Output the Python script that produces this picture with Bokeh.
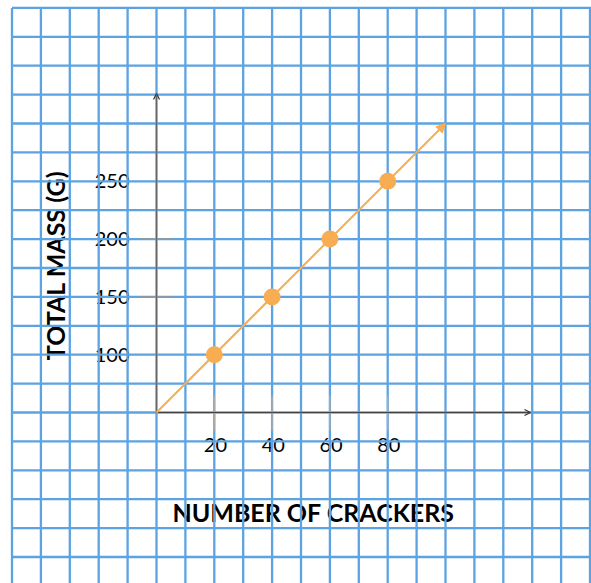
import numpy as np
from bokeh.plotting import figure
from bokeh.models import Range1d, Arrow, NormalHead, OpenHead
from bokeh.core.properties import value
from bokeh.embed import file_html
from bokeh.resources import INLINE

# ---- data ----
crackers = [20, 40, 60, 80]
total_mass = [100, 150, 200, 250]
x_tick_values = [20, 40, 60, 80]
x_tick_labels = ["20", "40", "60", "80"]
y_tick_values = [100, 150, 200, 250]
y_tick_labels = ["100", "150", "200", "250"]
y_tick_marks = [150, 200]
trend_x = [0, 100]
trend_y = [50, 300]
x_title = "NUMBER OF CRACKERS"
y_title = "TOTAL MASS (G)"

# ---- layout helpers (page pixels -> data) ----
W, H = 591, 583
OX, OY = 156, 412      # page px of origin (x=0, y=50)
SX, SY = 2.89, 1.156   # px per unit
Y0 = 50

def dx(px):
    return (px - OX) / SX

def dy(py):
    return Y0 + (OY - py) / SY

p = figure(width=W, height=H, output_backend="svg", toolbar_location=None,
           x_range=Range1d(dx(0), dx(W)), y_range=Range1d(dy(H), dy(0)),
           x_axis_type=None, y_axis_type=None, min_border=0)
p.grid.visible = False
p.outline_line_color = None
p.background_fill_color = "white"
p.border_fill_color = "white"

FONT = value("Lato")

# texts (under the grid)
p.text(x=[dx(129)] * len(y_tick_values), y=y_tick_values, text=y_tick_labels,
       text_font=FONT, text_font_size="20px", text_color="#000000",
       text_align="right", text_baseline="middle")
p.text(x=[v + 0.4 for v in x_tick_values], y=[dy(444)] * len(x_tick_values), text=x_tick_labels,
       text_font=FONT, text_font_size="20px", text_color="#000000",
       text_align="center", text_baseline="middle")
p.text(x=[dx(313)], y=[dy(511)], text=[x_title], text_font=FONT,
       text_font_size="25px", text_color="#000000", text_font_style="bold",
       text_align="center", text_baseline="middle")
p.text(x=[dx(54)], y=[dy(265)], text=[y_title], text_font=FONT,
       text_font_size="25px", text_color="#000000", text_font_style="bold",
       text_align="center", text_baseline="middle", angle=np.pi / 2)

# graph-paper grid
gx = np.arange(-50, 151, 10)
gy = np.arange(-100, 401, 25)
ytop, ybot = 400, dy(H) - 5
xleft, xright = -50, dx(W) + 5
p.multi_line(xs=[[v, v] for v in gx], ys=[[ybot, ytop]] * len(gx),
             line_color="#5BA3E2", line_width=2.3)
p.multi_line(xs=[[xleft, xright]] * len(gy), ys=[[v, v] for v in gy],
             line_color="#5BA3E2", line_width=2.3)

# tick marks
p.segment(x0=x_tick_values, x1=x_tick_values,
          y0=[dy(395)] * len(x_tick_values), y1=[dy(430)] * len(x_tick_values),
          line_color="#aaaaaa", line_width=1.5)
p.segment(x0=[dx(138)] * len(y_tick_marks), x1=[dx(173)] * len(y_tick_marks),
          y0=y_tick_marks, y1=y_tick_marks, line_color="#999999", line_width=1.5)

# axes with arrows
p.add_layout(Arrow(end=OpenHead(size=6, line_color="#333333", line_width=1.2),
                   x_start=0, y_start=Y0, x_end=dx(530), y_end=Y0,
                   line_color="#444444", line_width=1.2))
p.add_layout(Arrow(end=OpenHead(size=6, line_color="#333333", line_width=1.2),
                   x_start=0, y_start=Y0, x_end=0, y_end=dy(93),
                   line_color="#666666", line_width=1.2))

# trend line with arrow
ORANGE = "#F8AD52"
p.add_layout(Arrow(end=NormalHead(size=9, fill_color=ORANGE, line_color=ORANGE),
                   x_start=trend_x[0], y_start=trend_y[0], x_end=trend_x[1], y_end=trend_y[1],
                   line_color=ORANGE, line_width=2))
p.scatter(crackers, total_mass, size=17, fill_color=ORANGE, line_color=None)

open("out.html", "w").write(file_html(p, INLINE))
